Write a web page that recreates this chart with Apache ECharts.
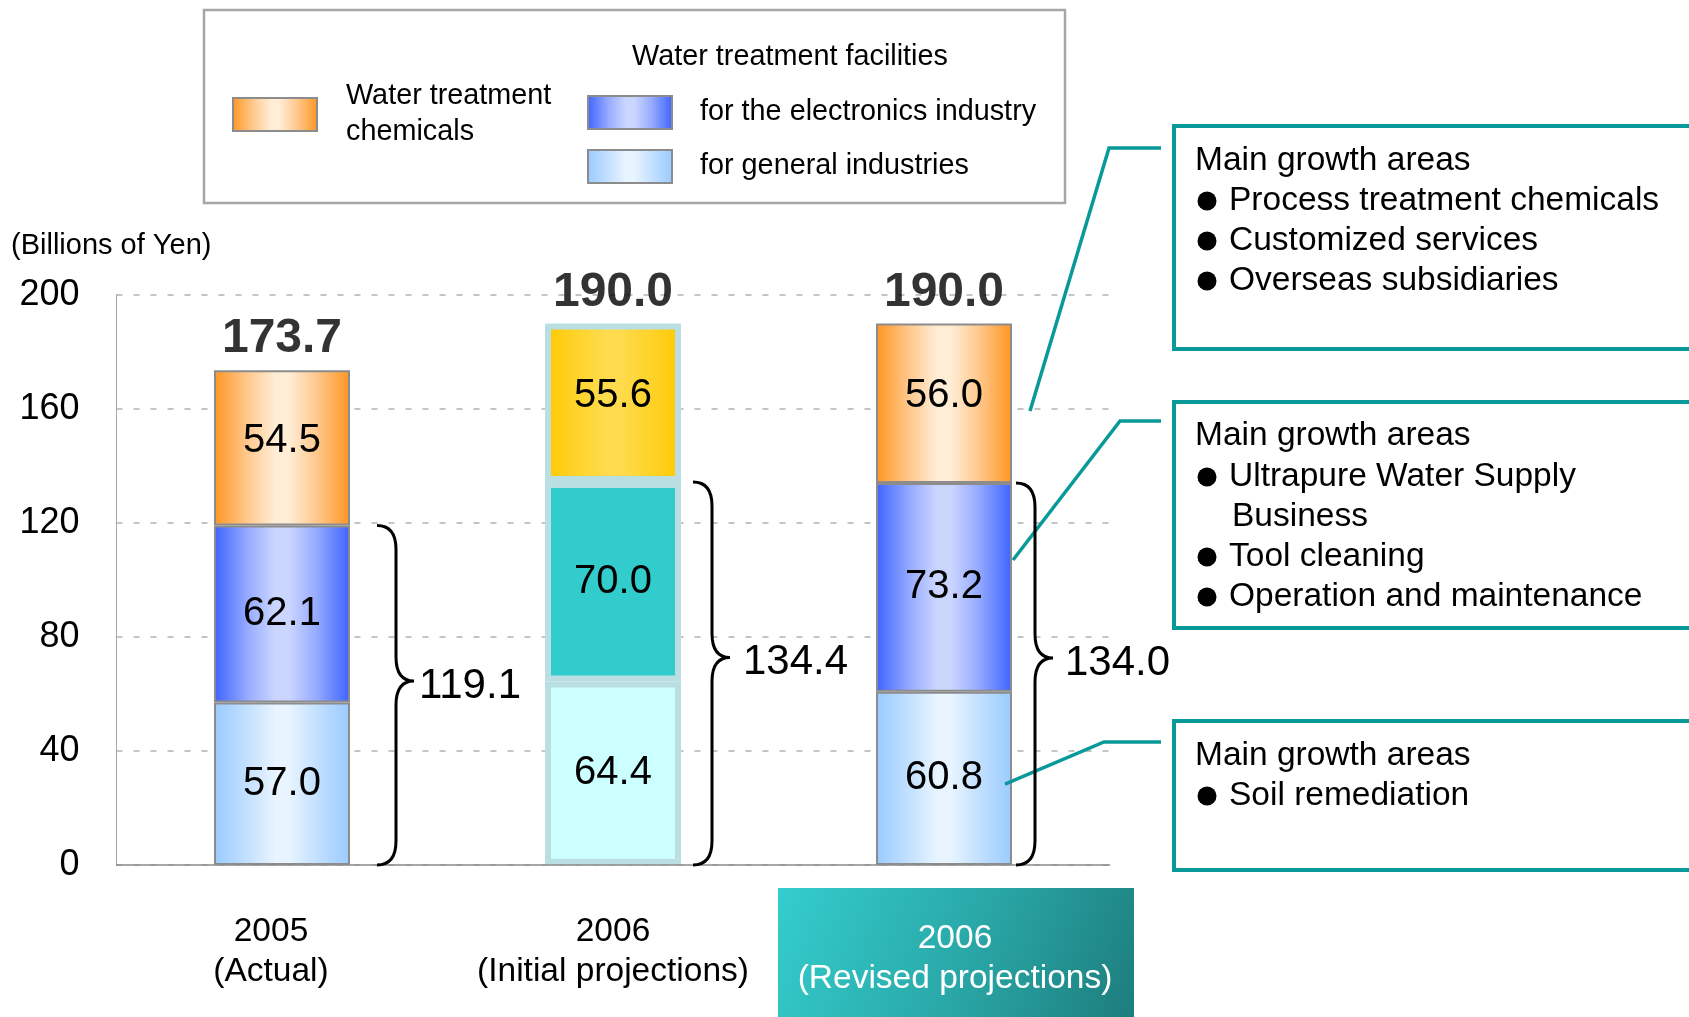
<!DOCTYPE html>
<html><head><meta charset="utf-8">
<script src="https://cdn.jsdelivr.net/npm/echarts@6/dist/echarts.min.js"></script>
<style>html,body{margin:0;padding:0;background:#fff}#c{width:1689px;height:1017px}</style>
</head><body><div id="c"></div>
<script>
// ---- data ----
const categories = ['2005\n(Actual)', '2006\n(Initial projections)', '2006\n(Revised projections)'];
const generalIndustries = [57.0, 64.4, 60.8];
const electronicsIndustry = [62.1, 70.0, 73.2];
const treatmentChemicals = [54.5, 55.6, 56.0];
const totals = [173.7, 190.0, 190.0];
const facilityTotals = [119.1, 134.4, 134.0];
const seriesNames = ['for general industries', 'for the electronics industry', 'Water treatment chemicals'];
const box1Lines = ['Main growth areas', 'Process treatment chemicals', 'Customized services', 'Overseas subsidiaries'];
const box2Lines = ['Main growth areas', 'Ultrapure Water Supply', 'Business', 'Tool cleaning', 'Operation and maintenance'];
const box3Lines = ['Main growth areas', 'Soil remediation'];

// ---- styles ----
const FF = '"Liberation Sans", Arial, sans-serif';
const TEAL = '#0a9999';
function hGrad(edge, mid, center) {
  return new echarts.graphic.LinearGradient(0, 0, 1, 0, [
    {offset: 0, color: edge}, {offset: 0.25, color: mid}, {offset: 0.45, color: center},
    {offset: 0.55, color: center}, {offset: 0.75, color: mid}, {offset: 1, color: edge}]);
}
const orangeG = () => hGrad('#ff9622', '#ffc98f', '#ffedd6');
const blueG = () => hGrad('#3d63ff', '#97abff', '#cbd6ff');
const lightBlueG = () => hGrad('#99cbff', '#c4e1ff', '#e8f4ff');
const yellowG = () => hGrad('#ffc800', '#ffd42e', '#ffdb4d');
const initialStyle = [
  {color: '#ccffff', borderColor: '#b9dfe3', borderWidth: 6},
  {color: '#33cccc', borderColor: '#b9dfe3', borderWidth: 6},
  {color: yellowG(), borderColor: '#b9dfe3', borderWidth: 6}
];
const BRACE_DX = [95, 80, 72];
const BRACE_LABEL_GAP = [5, 13, 12];

function mkData(arr, k) {
  return arr.map((v, i) => i === 1 ? {value: v, itemStyle: initialStyle[k]} : v);
}

const chart = echarts.init(document.getElementById('c'), null, {renderer: 'canvas'});

const barBase = {
  type: 'bar', stack: 'total', barWidth: 136,
  label: {show: true, position: 'inside', fontSize: 40, color: '#000', fontFamily: FF,
    formatter: p => Number(p.value).toFixed(1)},
  emphasis: {disabled: true}
};

const legendBase = {
  padding: 0, itemWidth: 84, itemHeight: 33, icon: 'rect', selectedMode: false, orient: 'horizontal'
};

const option = {
  animation: false,
  backgroundColor: '#fff',
  textStyle: {fontFamily: FF},
  grid: {left: 116.5, right: 579.5, top: 295, bottom: 152, containLabel: false},
  legend: [
    Object.assign({}, legendBase, {data: [seriesNames[2]], left: 232, top: 76.5,
      formatter: () => 'Water treatment\nchemicals',
      textStyle: {fontSize: 28.8, lineHeight: 36, color: '#000', fontFamily: FF, padding: [4, 0, 0, 24]}}),
    Object.assign({}, legendBase, {data: [seriesNames[1]], left: 587, top: 95,
      textStyle: {fontSize: 28.8, lineHeight: 33, color: '#000', fontFamily: FF, padding: [0, 0, 2, 23]}}),
    Object.assign({}, legendBase, {data: [seriesNames[0]], left: 587, top: 149,
      textStyle: {fontSize: 28.8, lineHeight: 33, color: '#000', fontFamily: FF, padding: [0, 0, 2, 23]}})
  ],
  xAxis: {
    type: 'category', data: categories, z: 5,
    axisLine: {lineStyle: {color: '#8c8c8c', width: 1.5}},
    axisTick: {show: false},
    axisLabel: {
      interval: 0, margin: 47, fontSize: 33.5, lineHeight: 40, color: '#000', fontFamily: FF,
      formatter: (v, i) => {
        const parts = v.split('\n');
        if (i === 2) return '{w1|' + parts[0] + '}\n{w2|' + parts[1] + '}';
        const key = i === 0 ? 'a' : 'n';
        return parts.map(s => '{' + key + '|' + s + '}').join('\n');
      },
      rich: {
        a: {color: '#000', fontSize: 33.5, lineHeight: 40, fontFamily: FF, padding: [0, 22, 0, 0]},
        n: {color: '#000', fontSize: 33.5, lineHeight: 40, fontFamily: FF},
        w1: {color: '#fff', fontSize: 33.5, lineHeight: 54, fontFamily: FF, padding: [0, 0, 0, 22]},
        w2: {color: '#fff', fontSize: 33.5, lineHeight: 26, fontFamily: FF, padding: [0, 0, 0, 22]}
      }
    }
  },
  yAxis: {
    type: 'value', min: 0, max: 200, interval: 40,
    axisLine: {show: true, lineStyle: {color: '#a6a6a6', width: 1}},
    axisTick: {show: false},
    axisLabel: {fontSize: 36, color: '#000', margin: 37, fontFamily: FF},
    splitLine: {lineStyle: {color: '#c4c4c4', width: 2, type: [6, 11]}}
  },
  series: [
    Object.assign({}, barBase, {name: seriesNames[0], data: mkData(generalIndustries, 0),
      itemStyle: {color: lightBlueG(), borderColor: '#8c8c8c', borderWidth: 2}}),
    Object.assign({}, barBase, {name: seriesNames[1], data: mkData(electronicsIndustry, 1),
      itemStyle: {color: blueG(), borderColor: '#8c8c8c', borderWidth: 2}}),
    Object.assign({}, barBase, {name: seriesNames[2], data: mkData(treatmentChemicals, 2),
      itemStyle: {color: orangeG(), borderColor: '#8c8c8c', borderWidth: 2},
      label: Object.assign({}, barBase.label, {offset: [0, -7]})}),
    {
      type: 'scatter', name: 'total', symbolSize: 0, silent: true, z: 6,
      data: totals.map((v, i) => [i, v]),
      label: {show: true, position: 'top', distance: 7, fontSize: 48, fontWeight: 'bold', color: '#000',
        fontFamily: FF, formatter: p => p.value[1].toFixed(1)}
    },
    {
      type: 'custom', name: 'brace', silent: true, z: 6,
      data: facilityTotals.map((v, i) => [i, v]),
      renderItem: (params, api) => {
        const i = api.value(0);
        const top = api.coord([i, api.value(1)]);
        const bot = api.coord([i, 0]);
        const x0 = top[0] + BRACE_DX[i], x1 = x0 + 19, x2 = x0 + 37;
        const yT = top[1], yB = bot[1];
        const yM = yT + (yB - yT) * 0.458;
        const r = 24;
        const d = `M${x0},${yT} Q${x1},${yT} ${x1},${yT + r} L${x1},${yM - r} Q${x1},${yM} ${x2},${yM} ` +
                  `Q${x1},${yM} ${x1},${yM + r} L${x1},${yB - r} Q${x1},${yB} ${x0},${yB}`;
        return {type: 'group', children: [
          {type: 'path', shape: {pathData: d}, style: {fill: 'none', stroke: '#000', lineWidth: 3}},
          {type: 'text', x: x2 + BRACE_LABEL_GAP[i], y: yM + 5, style: {text: api.value(1).toFixed(1), fontSize: 42,
            fill: '#000', fontFamily: FF, align: 'left', verticalAlign: 'middle'}}
        ]};
      }
    }
  ]
};
chart.setOption(option);

// ---- annotations ----
const px = v => chart.convertToPixel({gridIndex: 0}, [2, v]);
const g = [];
g.push({type: 'rect', z: 0, shape: {x: 204, y: 10, width: 861, height: 193},
  style: {fill: 'none', stroke: '#a6a6a6', lineWidth: 2.5}});
g.push({type: 'text', z: 3, x: 790, y: 57, style: {text: 'Water treatment facilities', fontSize: 28.8,
  fill: '#000', fontFamily: FF, align: 'center', verticalAlign: 'middle'}});
g.push({type: 'text', z: 3, x: 11, y: 246, style: {text: '(Billions of Yen)', fontSize: 29,
  fill: '#000', fontFamily: FF, align: 'left', verticalAlign: 'middle'}});
g.push({type: 'rect', z: 1, shape: {x: 778, y: 888, width: 356, height: 140},
  style: {fill: new echarts.graphic.LinearGradient(0, 0, 1, 1, [
    {offset: 0, color: '#34cdcd'}, {offset: 0.5, color: '#2aa9a9'}, {offset: 1, color: '#1d7c7c'}])}});

const boxes = [
  {y: 126, h: 223, lines: box1Lines, ys: [161, 201, 241, 281], bullets: [1, 2, 3]},
  {y: 402, h: 226, lines: box2Lines, ys: [436, 477, 517, 557, 597], bullets: [1, 3, 4]},
  {y: 721, h: 149, lines: box3Lines, ys: [756, 796], bullets: [1]}
];
boxes.forEach(b => {
  g.push({type: 'rect', z: 2, shape: {x: 1174, y: b.y, width: 600, height: b.h},
    style: {fill: '#fff', stroke: TEAL, lineWidth: 4}});
  b.lines.forEach((t, k) => {
    const bullet = b.bullets.indexOf(k) >= 0;
    const x = k === 0 ? 1195 : (bullet ? 1229 : 1232);
    g.push({type: 'text', z: 3, x: x, y: b.ys[k], style: {text: t, fontSize: 33.5, fill: '#000',
      fontFamily: FF, align: 'left', verticalAlign: 'middle'}});
    if (bullet) g.push({type: 'circle', z: 3, shape: {cx: 1207, cy: b.ys[k], r: 9.5}, style: {fill: '#000'}});
  });
});
// connectors from bars of the revised projection to the boxes
const p1 = px(159.3), p2 = px(107), p3 = px(28.4);
const conns = [
  [[p1[0] + 86, p1[1]], [1109, 148], [1161, 148]],
  [[p2[0] + 69, p2[1]], [1120, 421], [1161, 421]],
  [[p3[0] + 61, p3[1]], [1104, 742], [1161, 742]]
];
conns.forEach(pts => g.push({type: 'polyline', z: 3, shape: {points: pts},
  style: {fill: 'none', stroke: TEAL, lineWidth: 3.5}}));

chart.setOption({graphic: {elements: g}});
</script>
</body></html>
